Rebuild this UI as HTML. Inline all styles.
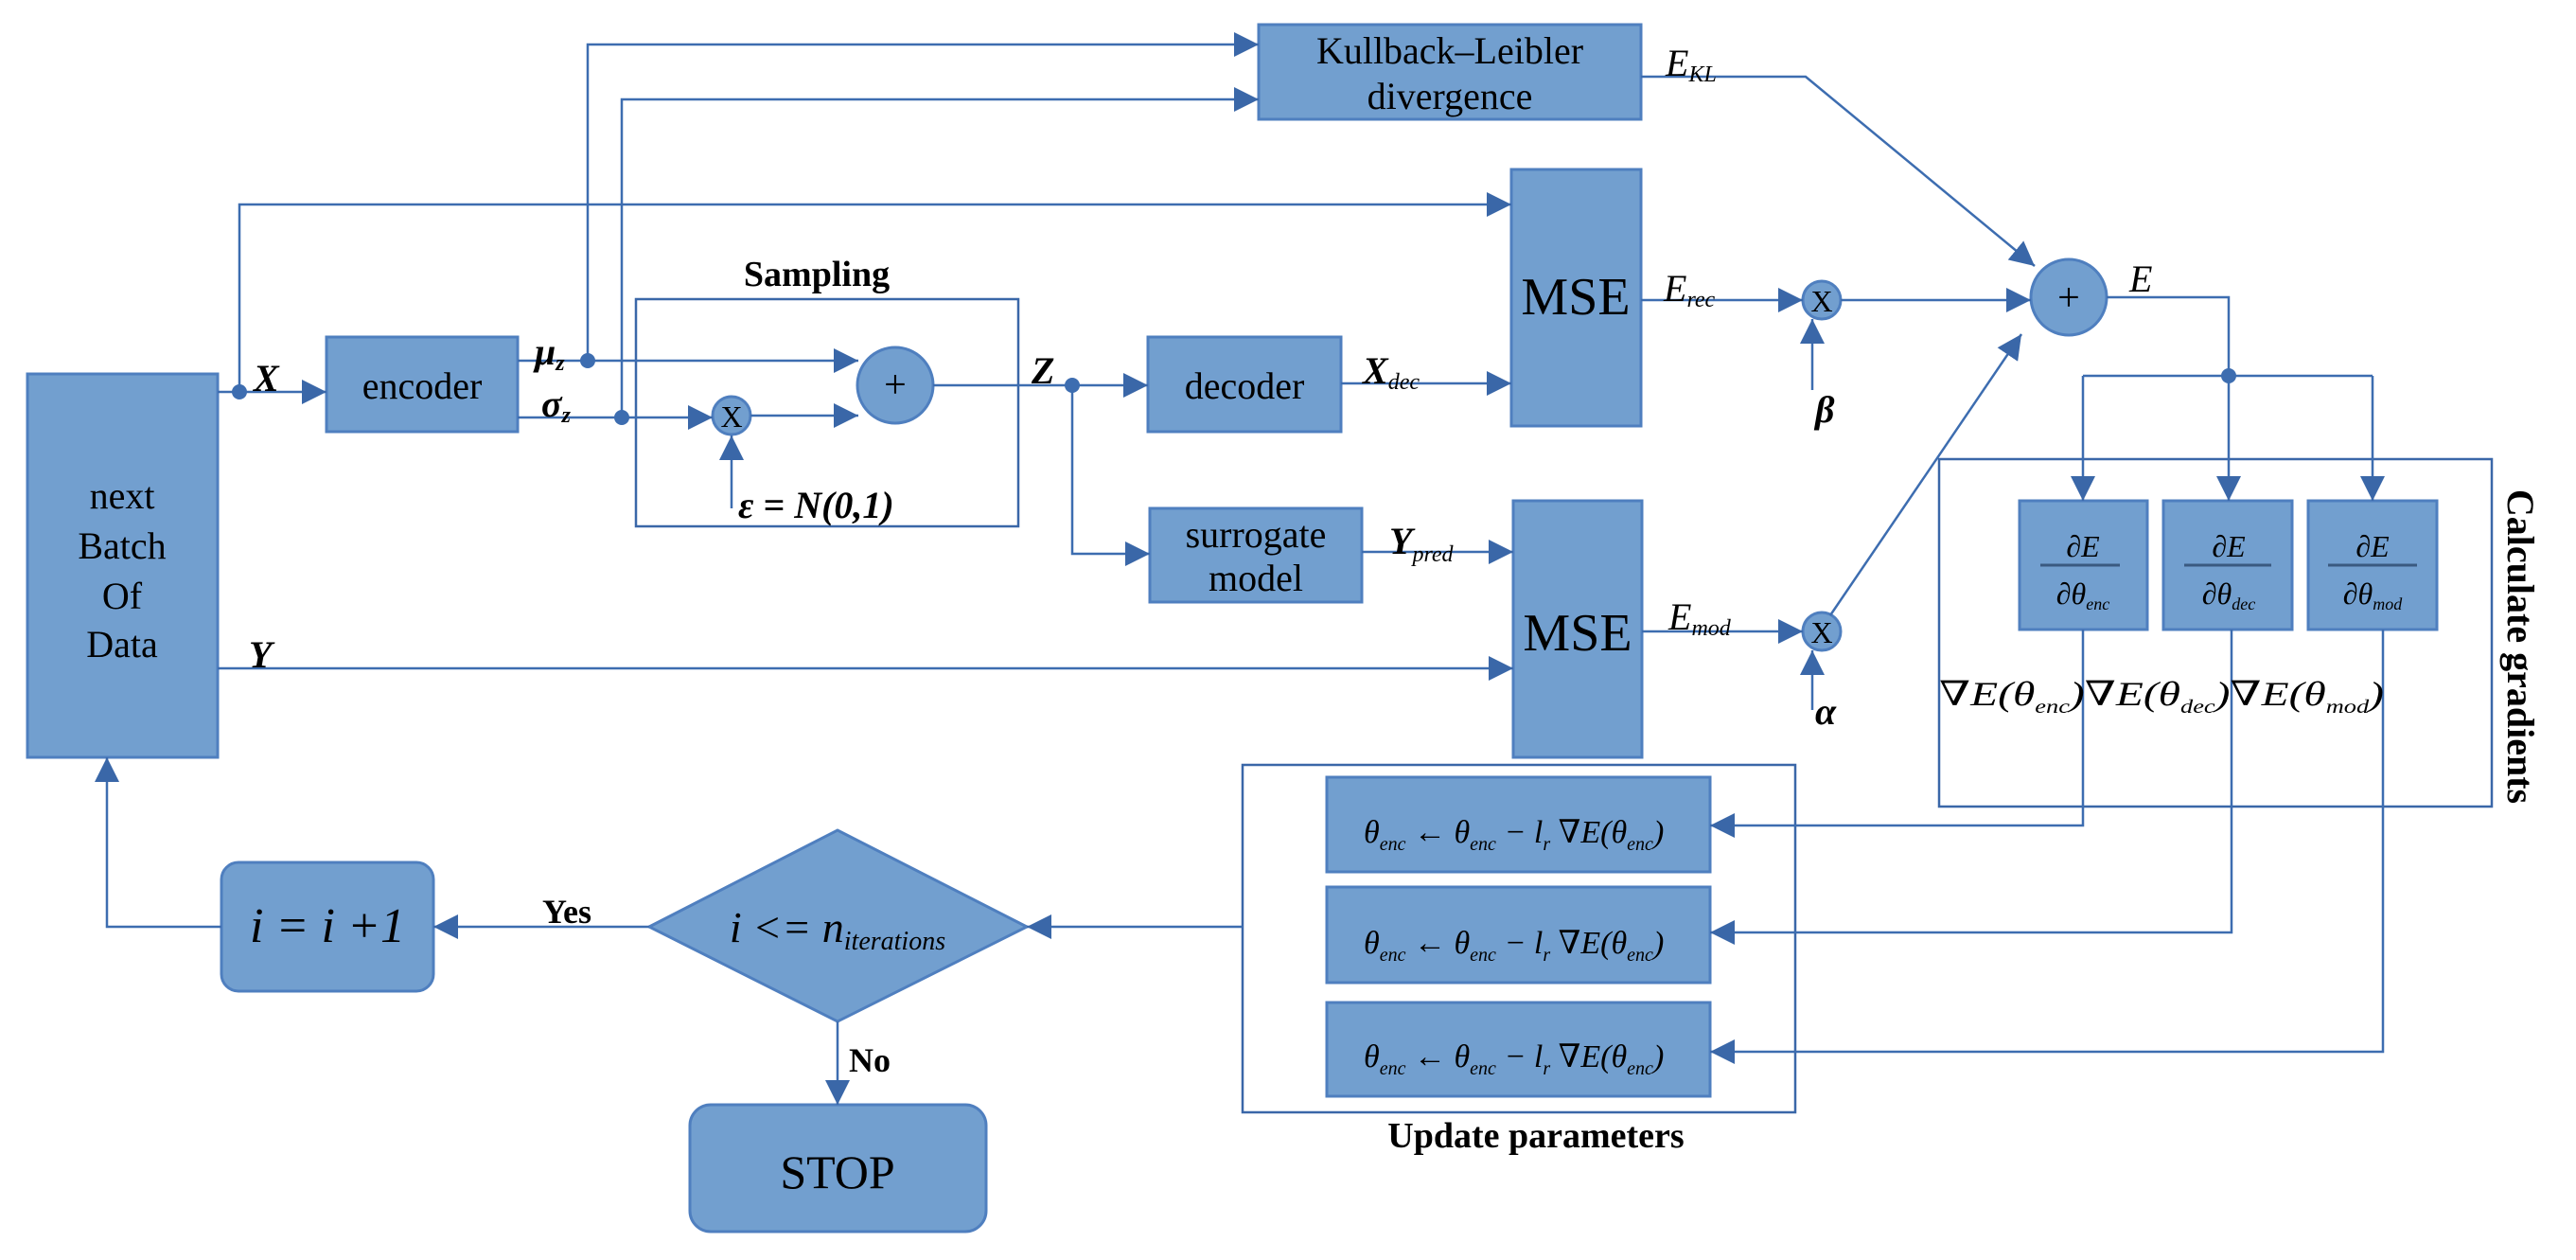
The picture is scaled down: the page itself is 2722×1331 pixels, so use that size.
<!DOCTYPE html>
<html><head><meta charset="utf-8"><style>
html,body{margin:0;padding:0;background:#fff}
svg{display:block}
text{font-family:"Liberation Serif","DejaVu Serif",serif;fill:#000}
</style></head><body>
<svg width="2722" height="1331" viewBox="0 0 2722 1331" xmlns="http://www.w3.org/2000/svg">
<defs>
<marker id="a" viewBox="0 0 10 10" refX="10" refY="5" markerWidth="10" markerHeight="10" markerUnits="userSpaceOnUse" orient="auto"><path d="M0,0 L10,5 L0,10 z" fill="#3a67a8"/></marker>
<marker id="b" viewBox="0 0 10 10" refX="10" refY="5" markerWidth="26" markerHeight="26" markerUnits="userSpaceOnUse" orient="auto"><path d="M0,0 L10,5 L0,10 z" fill="#3a67a8"/></marker>
</defs>
<g fill="#729fcf" stroke="#4f7fbf" stroke-width="3">
<rect x="1330" y="26" width="404" height="100"/>
<rect x="1597" y="179" width="137" height="271"/>
<rect x="1599" y="529" width="136" height="271"/>
<rect x="29" y="395" width="201" height="405"/>
<rect x="345" y="356" width="202" height="100"/>
<rect x="1213" y="356" width="204" height="100"/>
<rect x="1215" y="537" width="224" height="99"/>
<rect x="2134" y="529" width="135" height="136"/>
<rect x="2286" y="529" width="136" height="136"/>
<rect x="2439" y="529" width="136" height="136"/>
<rect x="1402" y="821" width="405" height="100"/>
<rect x="1402" y="937" width="405" height="101"/>
<rect x="1402" y="1059" width="405" height="99"/>
<rect x="234" y="911" width="224" height="136" rx="18"/>
<rect x="729" y="1167" width="313" height="134" rx="22"/>
<polygon points="686,979 885,877 1085,979 885,1079"/>
<circle cx="946" cy="407" r="40"/>
<circle cx="773" cy="439" r="20"/>
<circle cx="1925" cy="317" r="20"/>
<circle cx="1925" cy="667" r="20"/>
<circle cx="2186" cy="314" r="40"/>
</g>
<g fill="none" stroke="#3a67a8" stroke-width="2.5">
<rect x="672" y="316" width="404" height="240"/>
<rect x="2049" y="485" width="584" height="367"/>
<rect x="1313" y="808" width="584" height="367"/>
</g>
<g fill="none" stroke="#3d6db0" stroke-width="2.5">
<path d="M230,414 H345" marker-end="url(#b)"/>
<path d="M253,414 V216 H1597" marker-end="url(#b)"/>
<path d="M547,381 H907" marker-end="url(#b)"/>
<path d="M621,381 V47 H1330" marker-end="url(#b)"/>
<path d="M547,441 H753" marker-end="url(#b)"/>
<path d="M657,441 V105 H1330" marker-end="url(#b)"/>
<path d="M793,439 H907" marker-end="url(#b)"/>
<path d="M773,537 V460" marker-end="url(#b)"/>
<path d="M986,407 H1213" marker-end="url(#b)"/>
<path d="M1133,407 V585 H1215" marker-end="url(#b)"/>
<path d="M1417,405 H1597" marker-end="url(#b)"/>
<path d="M1439,583 H1599" marker-end="url(#b)"/>
<path d="M230,706 H1599" marker-end="url(#b)"/>
<path d="M1734,317 H1905" marker-end="url(#b)"/>
<path d="M1945,317 H2146" marker-end="url(#b)"/>
<path d="M1915,412 V337" marker-end="url(#b)"/>
<path d="M1735,667 H1905" marker-end="url(#b)"/>
<path d="M1915,750 V687" marker-end="url(#b)"/>
<path d="M1934,650 L2136,353" marker-end="url(#b)"/>
<path d="M1734,81 H1908 L2150,281" marker-end="url(#b)"/>
<path d="M2226,314 H2355 V397"/>
<path d="M2201,397 H2507"/>
<path d="M2201,397 V529" marker-end="url(#b)"/>
<path d="M2355,397 V529" marker-end="url(#b)"/>
<path d="M2507,397 V529" marker-end="url(#b)"/>
<path d="M2201,665 V872 H1807" marker-end="url(#b)"/>
<path d="M2358,665 V985 H1807" marker-end="url(#b)"/>
<path d="M2518,665 V1111 H1807" marker-end="url(#b)"/>
<path d="M1313,979 H1085" marker-end="url(#b)"/>
<path d="M686,979 H458" marker-end="url(#b)"/>
<path d="M234,979 H113 V800" marker-end="url(#b)"/>
<path d="M885,1079 V1167" marker-end="url(#b)"/>
</g>
<g fill="#3d6db0">
<circle cx="253" cy="414" r="8"/><circle cx="621" cy="381" r="8"/><circle cx="657" cy="441" r="8"/>
<circle cx="1133" cy="407" r="8"/><circle cx="2355" cy="397" r="8"/>
</g>
<g font-size="40" text-anchor="middle">
<text x="1532" y="67">Kullback–Leibler</text>
<text x="1532" y="115">divergence</text>
<text x="446" y="421">encoder</text>
<text x="1315" y="421">decoder</text>
<text x="1327" y="578">surrogate</text>
<text x="1327" y="624">model</text>
<text x="129" y="537">next</text>
<text x="129" y="590">Batch</text>
<text x="129" y="643">Of</text>
<text x="129" y="694">Data</text>
<text x="1665" y="332" font-size="56">MSE</text>
<text x="1667" y="687" font-size="56">MSE</text>
<text x="885" y="1255" font-size="50">STOP</text>
<text x="863" y="302" font-weight="bold" font-size="38">Sampling</text>
<text x="1623" y="1212" font-weight="bold" font-size="38">Update parameters</text>
<text x="946" y="420" font-size="42">+</text>
<text x="2186" y="328" font-size="42">+</text>
<text x="773" y="451" font-size="32">X</text>
<text x="1925" y="329" font-size="32">X</text>
<text x="1925" y="679" font-size="32">X</text>
<text x="346" y="995" font-size="52" font-style="italic">i = i +1</text>
<text x="885" y="995" font-size="46" font-style="italic">i &lt;= n<tspan font-size="28" dy="8">iterations</tspan></text>
</g>
<g font-size="40" font-style="italic">
<text x="268" y="413" font-weight="bold">X</text>
<text x="565" y="385" font-weight="bold">μ<tspan font-size="24" dy="6">z</tspan></text>
<text x="572" y="440" font-weight="bold">σ<tspan font-size="24" dy="6">z</tspan></text>
<text x="1090" y="405" font-weight="bold">Z</text>
<text x="1440" y="405" font-weight="bold">X<tspan font-size="24" font-weight="normal" dy="6">dec</tspan></text>
<text x="1468" y="585" font-weight="bold">Y<tspan font-size="24" font-weight="normal" dy="8">pred</tspan></text>
<text x="263" y="705" font-weight="bold">Y</text>
<text x="780" y="547" font-weight="bold">ε = N(0,1)</text>
<text x="1760" y="80">E<tspan font-size="24" dy="6">KL</tspan></text>
<text x="1758" y="318">E<tspan font-size="24" dy="6">rec</tspan></text>
<text x="1763" y="665">E<tspan font-size="24" dy="6">mod</tspan></text>
<text x="1918" y="446" font-weight="bold">β</text>
<text x="1918" y="765" font-weight="bold">α</text>
<text x="2250" y="308">E</text>
<text x="1441" y="890" font-size="34">θ<tspan font-size="20" dy="8">enc</tspan><tspan dy="-8"> ← θ</tspan><tspan font-size="20" dy="8">enc</tspan><tspan dy="-8"> − l</tspan><tspan font-size="20" dy="8">r</tspan><tspan dy="-8"> ∇E(θ</tspan><tspan font-size="20" dy="8">enc</tspan><tspan dy="-8">)</tspan></text>
<text x="1441" y="1007" font-size="34">θ<tspan font-size="20" dy="8">enc</tspan><tspan dy="-8"> ← θ</tspan><tspan font-size="20" dy="8">enc</tspan><tspan dy="-8"> − l</tspan><tspan font-size="20" dy="8">r</tspan><tspan dy="-8"> ∇E(θ</tspan><tspan font-size="20" dy="8">enc</tspan><tspan dy="-8">)</tspan></text>
<text x="1441" y="1127" font-size="34">θ<tspan font-size="20" dy="8">enc</tspan><tspan dy="-8"> ← θ</tspan><tspan font-size="20" dy="8">enc</tspan><tspan dy="-8"> − l</tspan><tspan font-size="20" dy="8">r</tspan><tspan dy="-8"> ∇E(θ</tspan><tspan font-size="20" dy="8">enc</tspan><tspan dy="-8">)</tspan></text>
<text x="2049" y="745" font-size="36" textLength="470" lengthAdjust="spacingAndGlyphs">∇E(θ<tspan font-size="20" dy="8">enc</tspan><tspan dy="-8">)∇E(θ</tspan><tspan font-size="20" dy="8">dec</tspan><tspan dy="-8">)∇E(θ</tspan><tspan font-size="20" dy="8">mod</tspan><tspan dy="-8">)</tspan></text>
</g>
<g font-size="32" font-style="italic" text-anchor="middle">
<text x="2201" y="588">∂E</text><text x="2355" y="588">∂E</text><text x="2507" y="588">∂E</text>
<text x="2201" y="638">∂θ<tspan font-size="18" dy="6">enc</tspan></text>
<text x="2355" y="638">∂θ<tspan font-size="18" dy="6">dec</tspan></text>
<text x="2507" y="638">∂θ<tspan font-size="18" dy="6">mod</tspan></text>
</g>
<g stroke="#3a5a80" stroke-width="3">
<line x1="2156" y1="597" x2="2240" y2="597"/><line x1="2308" y1="597" x2="2400" y2="597"/><line x1="2460" y1="597" x2="2554" y2="597"/>
</g>
<text transform="translate(2650,683) rotate(90)" text-anchor="middle" font-size="40" font-weight="bold">Calculate gradients</text>
<text x="897" y="1132" font-size="36" font-weight="bold">No</text>
<text x="573" y="975" font-size="36" font-weight="bold">Yes</text>
</svg>
</body></html>
